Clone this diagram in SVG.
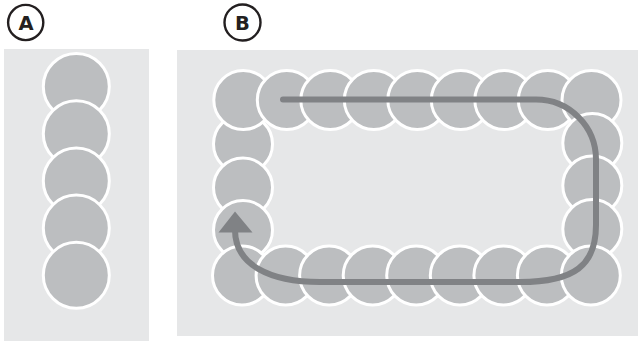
<svg xmlns="http://www.w3.org/2000/svg" width="638" height="341" viewBox="0 0 638 341">
<style>
.panel{fill:#e6e7e8}
.ca{fill:#bcbec0;stroke:#ffffff;stroke-width:3}
.cb{fill:#bcbec0;stroke:#ffffff;stroke-width:3}
.lab{fill:none;stroke:#231f20;stroke-width:2.4}
.lt{font-family:"DejaVu Sans",sans-serif;font-weight:bold;font-size:19.5px;fill:#231f20;text-anchor:middle}
.arr{fill:none;stroke:#808285;stroke-width:6;stroke-linecap:round;stroke-linejoin:round}
</style>
<rect width="638" height="341" fill="#ffffff"/>
<g id="label-A">
<circle class="lab" cx="25.7" cy="22.5" r="17.6"/>
<text class="lt" x="26" y="30">A</text>
</g>
<g id="label-B">
<circle class="lab" cx="242.5" cy="22.5" r="18"/>
<text class="lt" x="242.5" y="30">B</text>
</g>
<g id="panel-A">
<rect class="panel" x="4" y="49" width="145" height="292"/>
<circle class="ca" cx="76.3" cy="86.5" r="33"/>
<circle class="ca" cx="76.3" cy="133.7" r="33"/>
<circle class="ca" cx="76.3" cy="180.9" r="33"/>
<circle class="ca" cx="76.3" cy="228.1" r="33"/>
<circle class="ca" cx="76.3" cy="275.3" r="33"/>
</g>
<g id="panel-B">
<rect class="panel" x="177" y="50" width="461" height="286"/>
<g id="left-column">
<circle class="cb" cx="243" cy="144" r="29.5"/>
<circle class="cb" cx="243" cy="187.5" r="29.5"/>
<circle class="cb" cx="243" cy="230" r="29.5"/>
</g>
<g id="top-row">
<circle class="cb" cx="243.3" cy="100" r="29.5"/>
<circle class="cb" cx="286.8" cy="100" r="29.5"/>
<circle class="cb" cx="330.3" cy="100" r="29.5"/>
<circle class="cb" cx="373.8" cy="100" r="29.5"/>
<circle class="cb" cx="417.3" cy="100" r="29.5"/>
<circle class="cb" cx="460.8" cy="100" r="29.5"/>
<circle class="cb" cx="504.3" cy="100" r="29.5"/>
<circle class="cb" cx="547.8" cy="100" r="29.5"/>
<circle class="cb" cx="591.5" cy="100" r="29.5"/>
</g>
<g id="right-column">
<circle class="cb" cx="592.3" cy="143" r="29.5"/>
<circle class="cb" cx="592.3" cy="185.5" r="29.5"/>
<circle class="cb" cx="592.3" cy="229" r="29.5"/>
</g>
<g id="bottom-row">
<circle class="cb" cx="242" cy="275.5" r="29.5"/>
<circle class="cb" cx="285.6" cy="275.5" r="29.5"/>
<circle class="cb" cx="329.1" cy="275.5" r="29.5"/>
<circle class="cb" cx="372.7" cy="275.5" r="29.5"/>
<circle class="cb" cx="416.2" cy="275.5" r="29.5"/>
<circle class="cb" cx="459.8" cy="275.5" r="29.5"/>
<circle class="cb" cx="503.4" cy="275.5" r="29.5"/>
<circle class="cb" cx="546.9" cy="275.5" r="29.5"/>
<circle class="cb" cx="590.8" cy="275.5" r="29.5"/>
</g>
</g>
<g id="connectors">
<path class="arr" d="M 283 99.5 L 536 99.5 A 60 60 0 0 1 596 159.5 L 596 225 C 596 265 575 282 520 282 L 320 282 C 270 282 235 265 235 230"/>
<polygon points="235,211.5 218.5,232.5 252.5,232.5" fill="#808285"/>
</g>
</svg>
